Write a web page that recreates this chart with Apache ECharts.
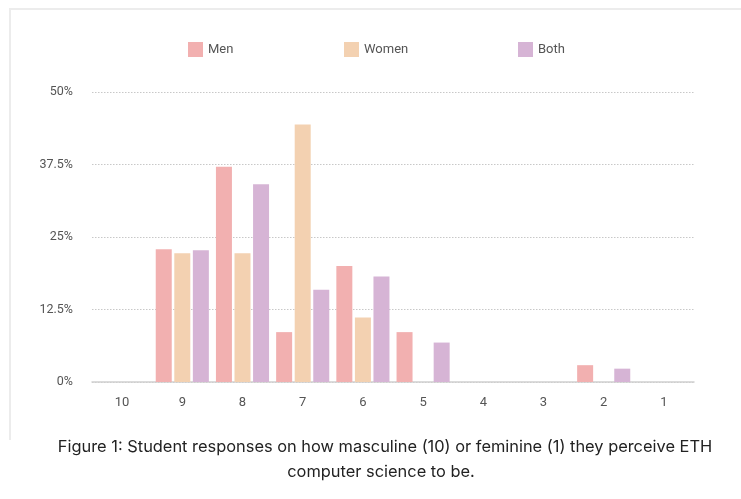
<!DOCTYPE html>
<html>
<head>
<meta charset="utf-8">
<script src="https://cdn.jsdelivr.net/npm/echarts@6/dist/echarts.min.js"></script>
<style>
  html, body { margin: 0; padding: 0; background: #fff; }
  #chart { width: 741px; height: 499px; }
</style>
</head>
<body>
<div id="chart"></div>
<script>
// Rating scale, from masculine (10) to feminine (1)
const categories = ['10', '9', '8', '7', '6', '5', '4', '3', '2', '1'];

// Share of respondents (%) per rating
const menValues   = [0, 22.9, 37.1, 8.6, 20.0, 8.6, 0, 0, 2.9, 0];
const womenValues = [0, 22.2, 22.2, 44.4, 11.1, 0, 0, 0, 0, 0];
const bothValues  = [0, 22.7, 34.1, 15.9, 18.2, 6.8, 0, 0, 2.3, 0];

const seriesNames = ['Men', 'Women', 'Both'];
const yTicks = [0, 12.5, 25, 37.5, 50];

const captionLines = [
  'Figure 1: Student responses on how masculine (10) or feminine (1) they perceive ETH',
  'computer science to be.'
];

const colors = ['#f2b0b0', '#f3d1b1', '#d6b4d5'];
const labelFont = 'Roboto, "Liberation Sans", sans-serif';
const captionFont = 'Inter, "Noto Sans", sans-serif';

const chart = echarts.init(document.getElementById('chart'), null, { renderer: 'canvas' });

function legendAt(name, left) {
  return {
    data: [name],
    left: left,
    top: 37,
    itemWidth: 15,
    itemHeight: 15,
    icon: 'rect',
    selectedMode: false,
    textStyle: { color: '#555', fontSize: 13, fontFamily: labelFont }
  };
}

function barSeries(name, values, color) {
  return {
    name: name,
    type: 'bar',
    data: values,
    barWidth: 16,
    barGap: '16%',
    itemStyle: { color: color },
    emphasis: { disabled: true }
  };
}

chart.setOption({
  animation: false,
  backgroundColor: '#fff',
  color: colors,
  legend: [
    legendAt(seriesNames[0], 183),
    legendAt(seriesNames[1], 339),
    legendAt(seriesNames[2], 513)
  ],
  grid: { left: 92, right: 47, top: 92, bottom: 117, containLabel: false },
  xAxis: {
    type: 'category',
    data: categories,
    axisLine: { lineStyle: { color: '#cfcfcf', width: 1.5 } },
    axisTick: { show: false },
    axisLabel: { color: '#555', fontSize: 13, fontFamily: labelFont, margin: 14 }
  },
  yAxis: {
    type: 'value',
    min: yTicks[0],
    max: yTicks[yTicks.length - 1],
    interval: yTicks[1] - yTicks[0],
    axisLine: { show: false },
    axisTick: { show: false },
    axisLabel: {
      color: '#555', fontSize: 12.5, fontFamily: labelFont, margin: 19,
      formatter: v => v + '%'
    },
    splitLine: { lineStyle: { color: '#c8c8c8', type: [1.5, 1.5], width: 1 } }
  },
  series: [
    barSeries(seriesNames[0], menValues, colors[0]),
    barSeries(seriesNames[1], womenValues, colors[1]),
    barSeries(seriesNames[2], bothValues, colors[2])
  ],
  graphic: [
    {
      type: 'polyline',
      shape: { points: [[10, 440], [10, 9], [760, 9]] },
      style: { stroke: '#ececec', lineWidth: 2, fill: null },
      silent: true
    },
    {
      type: 'text',
      x: 385, y: 447,
      style: {
        text: captionLines[0], x: 0, y: 0,
        textAlign: 'center', textVerticalAlign: 'middle',
        fill: '#222', fontSize: 16.4, fontFamily: captionFont
      }
    },
    {
      type: 'text',
      x: 381, y: 472,
      style: {
        text: captionLines[1], x: 0, y: 0,
        textAlign: 'center', textVerticalAlign: 'middle',
        fill: '#222', fontSize: 16.4, fontFamily: captionFont
      }
    }
  ]
});
</script>
</body>
</html>
